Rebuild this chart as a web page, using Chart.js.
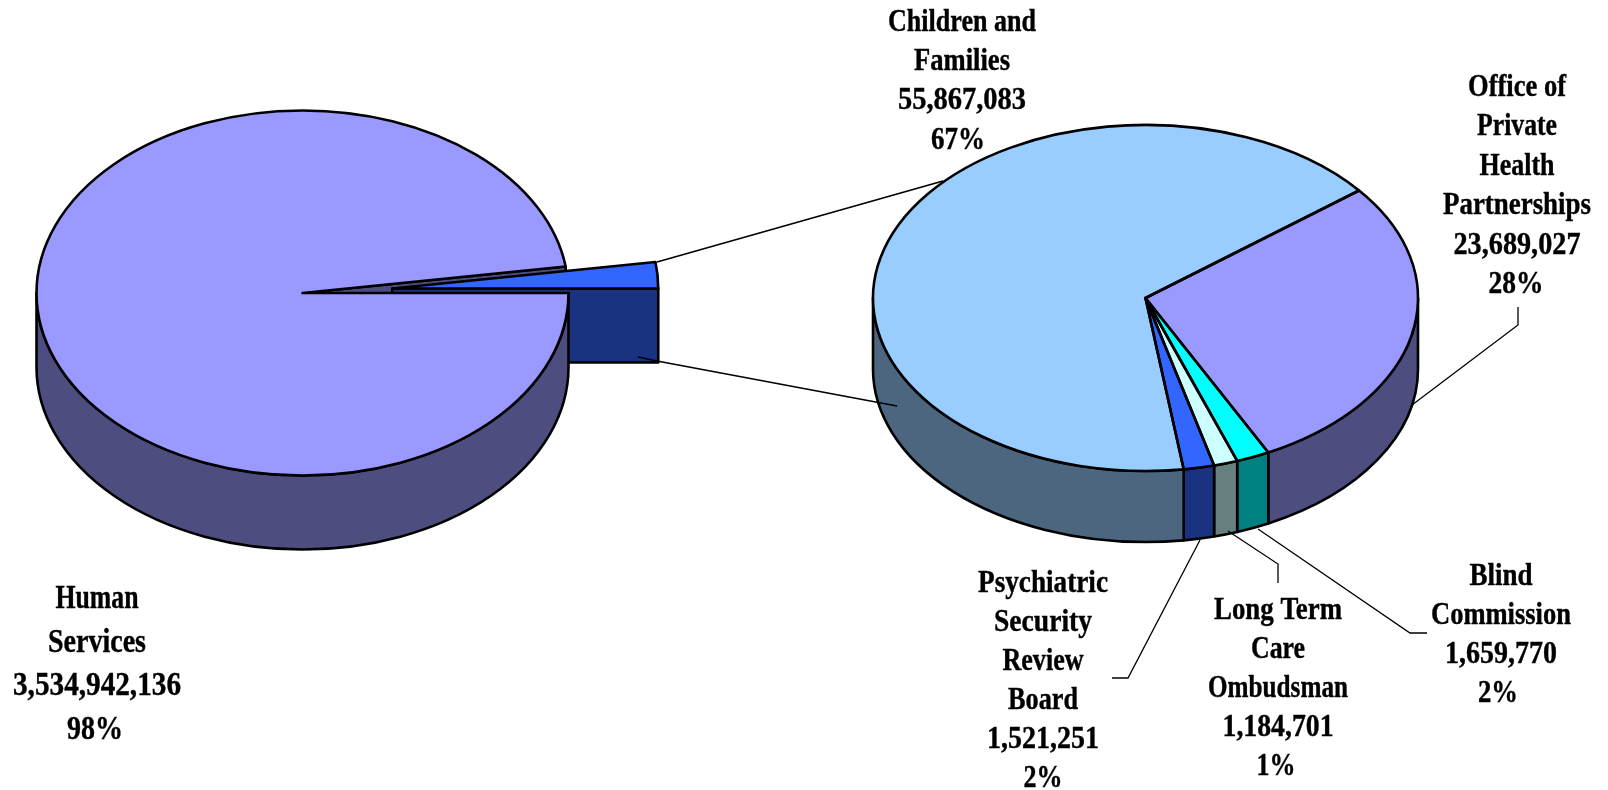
<!DOCTYPE html>
<html>
<head>
<meta charset="utf-8">
<style>
html,body{margin:0;padding:0;background:#fff;width:1608px;height:790px;overflow:hidden}
canvas{position:absolute;left:0;top:0}
</style>
<script src="https://cdn.jsdelivr.net/npm/chart.js@4/dist/chart.umd.js"></script>
</head>
<body>
<canvas id="left" width="1608" height="790"></canvas>
<canvas id="right" width="1608" height="790"></canvas>
<script>
// ---- data ----
const leftCategories = ['Human Services', 'Other'];
const leftValues = [3534942136, 83921832];
const leftTop = ['#9999FF', '#3366FF'];
const leftWall = ['#4D4D80', '#1A3380'];

const rightCategories = ['Office of Private Health Partnerships', 'Blind Commission', 'Long Term Care Ombudsman', 'Psychiatric Security Review Board', 'Children and Families'];
const rightValues = [23689027, 1659770, 1184701, 1521251, 55867083];
const rightTop = ['#9999FF', '#00FFFF', '#CCFFFF', '#3366FF', '#99CCFF'];
const rightWall = ['#4D4D80', '#008080', '#668080', '#1A3380', '#4D6680'];

const leftPercents = ['98%'];
const rightPercents = ['28%', '2%', '1%', '2%', '67%'];

const leftNameLines = [['Human', 'Services']];
const rightNameLines = [
  ['Office of', 'Private', 'Health', 'Partnerships'],
  ['Blind', 'Commission'],
  ['Long Term', 'Care', 'Ombudsman'],
  ['Psychiatric', 'Security', 'Review', 'Board'],
  ['Children and', 'Families']
];

// ---- layout of the labels (centre x, first baseline, line step, font px, line widths, percent nudge) ----
const leftLabelLayout = [
  {x: 97, y: 608, step: 43.7, size: 33, widths: [83, 98, 168, 56], pctDx: -2}
];
const rightLabelLayout = [
  {x: 1517, y: 96, step: 39.4, size: 31, widths: [98, 80, 75, 148, 127, 55], pctDx: -1},
  {x: 1501, y: 585, step: 39, size: 31, widths: [63, 140, 112, 40], pctDx: -3},
  {x: 1278, y: 619, step: 39, size: 31, widths: [128, 54, 140, 111, 39], pctDx: -2},
  {x: 1043, y: 592, step: 39, size: 31, widths: [130, 98, 81, 70, 112, 39], pctDx: 0},
  {x: 962, y: 31, step: 39.2, size: 31, widths: [148, 96, 128, 54], pctDx: -4}
];
const connectorLines = [
  [[657, 262], [943, 181]],
  [[638, 357], [657, 361], [897, 406]]
];
const leaderLines = [
  [[1518, 307], [1518, 325], [1412, 405]],
  [[1258, 529], [1410, 633], [1427, 633]],
  [[1228, 531], [1278, 564], [1278, 583]],
  [[1200, 540], [1128, 678], [1112, 678]]
];

function labelLines(names, values, percents, i) {
  return names[i].concat([values[i].toLocaleString('en-US'), percents[i]]);
}

function wallRanges(a, b) {
  const out = [];
  for (const s of [-2, 0, 2]) {
    const lo = Math.max(a, s * Math.PI), hi = Math.min(b, s * Math.PI + Math.PI);
    if (hi > lo) out.push([lo, hi]);
  }
  return out;
}

const RIM = 2.6;

const pie3d = {
  id: 'pie3d',
  afterDatasetsUpdate(chart, args, o) {
    const arcs = chart.getDatasetMeta(0).data;
    if (o.explodeIndex !== undefined) {
      const arc = arcs[o.explodeIndex];
      const mid = (arc.startAngle + arc.endAngle) / 2;
      arc.x += Math.cos(mid) * o.explodeBy;
      arc.y += Math.sin(mid) * o.explodeBy;
    }
  },
  beforeDatasetsDraw(chart, args, o) {
    const ctx = chart.ctx;
    const cy = (chart.chartArea.top + chart.chartArea.bottom) / 2;
    const arcs = chart.getDatasetMeta(0).data;
    const sy = y => cy + o.k * (y - cy);
    ctx.save();
    ctx.lineWidth = RIM;
    ctx.lineJoin = 'round';
    ctx.strokeStyle = '#000';
    // radial faces seen through the gap and of the pulled-out slice
    if (o.explodeIndex !== undefined) {
      const main = arcs[0], ex = arcs[o.explodeIndex];
      const ey = sy(main.y) + o.k * main.outerRadius * Math.sin(main.endAngle);
      const ex0 = main.x + main.outerRadius * Math.cos(main.endAngle);
      ctx.fillStyle = o.walls[0];
      ctx.beginPath();
      ctx.moveTo(main.x, sy(main.y));
      ctx.lineTo(ex0, ey);
      ctx.lineTo(ex0, ey + o.depth);
      ctx.lineTo(main.x, sy(main.y) + o.depth);
      ctx.closePath();
      ctx.fill();
      ctx.stroke();
      const a = ex.endAngle;
      const rx = ex.x + ex.outerRadius * Math.cos(a), ry = sy(ex.y) + o.k * ex.outerRadius * Math.sin(a);
      ctx.fillStyle = o.walls[o.explodeIndex];
      ctx.beginPath();
      ctx.moveTo(ex.x, sy(ex.y));
      ctx.lineTo(rx, ry);
      ctx.lineTo(rx, ry + o.depth);
      ctx.lineTo(ex.x, sy(ex.y) + o.depth);
      ctx.closePath();
      ctx.fill();
      ctx.stroke();
    }
    // curved side walls
    arcs.forEach((arc, i) => {
      if (i === o.explodeIndex) return;
      for (const [lo, hi] of wallRanges(arc.startAngle, arc.endAngle)) {
        const y0 = sy(arc.y), r = arc.outerRadius, ry = r * o.k;
        ctx.fillStyle = o.walls[i];
        ctx.beginPath();
        ctx.ellipse(arc.x, y0, r, ry, 0, lo, hi, false);
        ctx.ellipse(arc.x, y0 + o.depth, r, ry, 0, hi, lo, true);
        ctx.closePath();
        ctx.fill();
        ctx.stroke();
      }
    });
    ctx.restore();
  },
  beforeDatasetDraw(chart, args, o) {
    const ctx = chart.ctx;
    const cy = (chart.chartArea.top + chart.chartArea.bottom) / 2;
    ctx.save();
    ctx.translate(0, cy);
    ctx.scale(1, o.k);
    ctx.translate(0, -cy);
  },
  afterDatasetDraw(chart) {
    chart.ctx.restore();
  },
  afterDatasetsDraw(chart, args, o) {
    const ctx = chart.ctx;
    const cy = (chart.chartArea.top + chart.chartArea.bottom) / 2;
    const arcs = chart.getDatasetMeta(0).data;
    ctx.save();
    ctx.lineWidth = RIM;
    ctx.lineJoin = 'round';
    ctx.strokeStyle = '#000';
    arcs.forEach(arc => {
      const y0 = cy + o.k * (arc.y - cy);
      ctx.beginPath();
      ctx.moveTo(arc.x, y0);
      ctx.ellipse(arc.x, y0, arc.outerRadius, arc.outerRadius * o.k, 0, arc.startAngle, arc.endAngle, false);
      ctx.closePath();
      ctx.stroke();
    });
    ctx.restore();
  },
  afterDraw(chart, args, o) {
    const ctx = chart.ctx;
    ctx.save();
    ctx.strokeStyle = '#000';
    ctx.lineJoin = 'miter';
    const poly = (pts, w) => {
      ctx.lineWidth = w;
      ctx.beginPath();
      pts.forEach((p, i) => i ? ctx.lineTo(p[0], p[1]) : ctx.moveTo(p[0], p[1]));
      ctx.stroke();
    };
    (o.connectors || []).forEach(p => poly(p, 1.7));
    (o.leaders || []).forEach(p => poly(p, 1.3));
    ctx.fillStyle = '#000';
    ctx.textAlign = 'center';
    ctx.textBaseline = 'alphabetic';
    ctx.lineWidth = 0.4;
    o.labels.forEach(l => {
      ctx.font = 'bold ' + l.size + 'px "Liberation Serif", "Times New Roman", serif';
      l.lines.forEach((t, i) => {
        const x = l.x + (i === l.lines.length - 1 ? l.pctDx : 0);
        ctx.fillText(t, x, l.y + i * l.step, l.widths[i]);
        ctx.strokeText(t, x, l.y + i * l.step, l.widths[i]);
      });
    });
    ctx.restore();
  }
};

function makePie(id, categories, values, tops, rotation, radius, padding, pluginOpts) {
  return new Chart(document.getElementById(id), {
    type: 'pie',
    data: {
      labels: categories,
      datasets: [{data: values, backgroundColor: tops, borderWidth: 0, clip: false}]
    },
    options: {
      responsive: false,
      animation: false,
      events: [],
      rotation: rotation,
      radius: radius,
      layout: {padding: padding},
      plugins: {legend: {display: false}, tooltip: {enabled: false}, pie3d: pluginOpts}
    },
    plugins: [pie3d]
  });
}

makePie('left', leftCategories, leftValues, leftTop, 90, 266,
  {left: 0, right: 1003, top: 0, bottom: 204},
  {k: 0.686, depth: 74, walls: leftWall, explodeIndex: 1, explodeBy: 90,
   labels: leftLabelLayout.map((l, i) => Object.assign({lines: labelLines(leftNameLines, leftValues, leftPercents, i)}, l))});

makePie('right', rightCategories, rightValues, rightTop, 51.6, 272.5,
  {left: 683, right: 0, top: 0, bottom: 194},
  {k: 0.635, depth: 71, walls: rightWall, connectors: connectorLines, leaders: leaderLines,
   labels: rightLabelLayout.map((l, i) => Object.assign({lines: labelLines(rightNameLines, rightValues, rightPercents, i)}, l))});
</script>
</body>
</html>
